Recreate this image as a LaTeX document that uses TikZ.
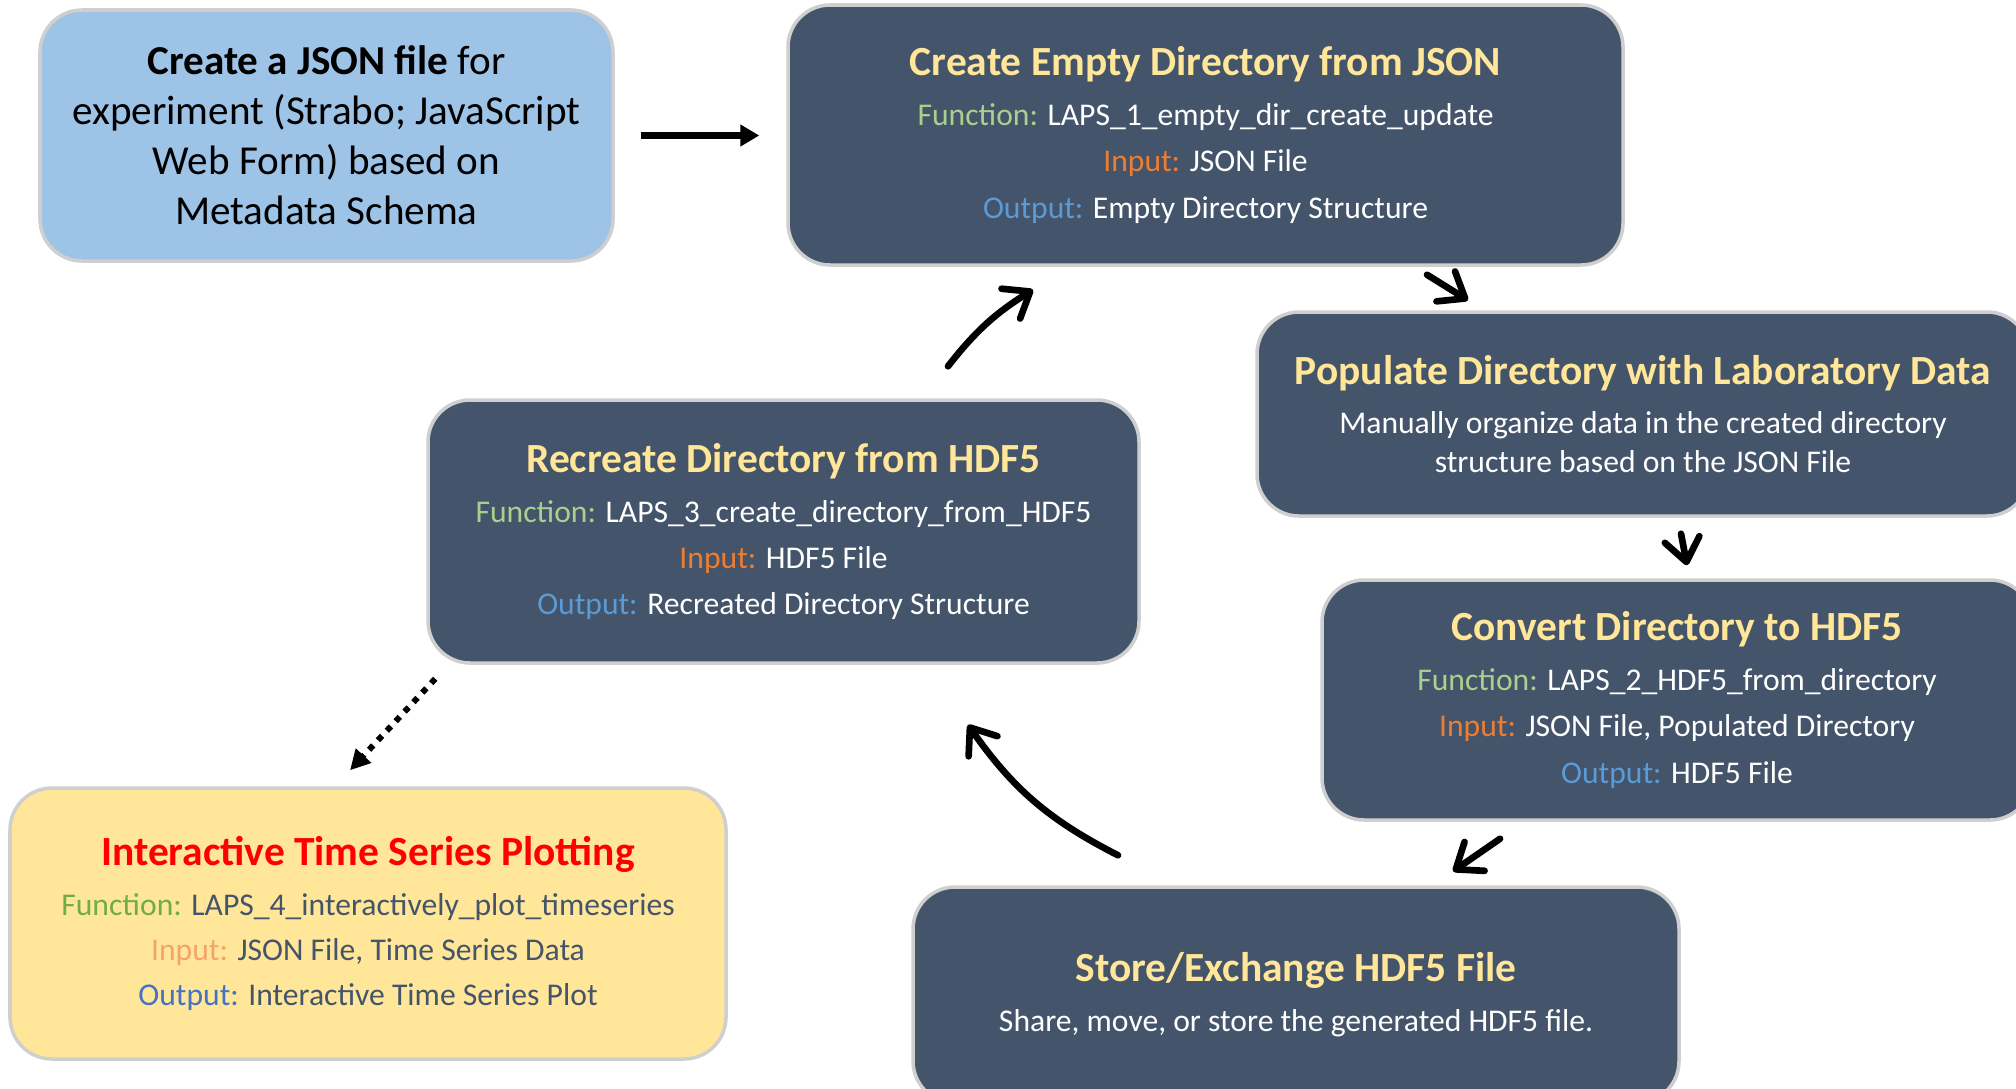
\documentclass[tikz,border=0pt]{standalone}
\usepackage{fontspec}
\setmainfont{Carlito}
\usetikzlibrary{arrows.meta}
\usepackage{xcolor}

\definecolor{slate}{HTML}{44546A}
\definecolor{skyfill}{HTML}{9DC3E6}
\definecolor{sandfill}{HTML}{FFE699}
\definecolor{edgegray}{HTML}{CFCFCF}
\definecolor{fngreen}{HTML}{A9D18E}
\definecolor{inorange}{HTML}{ED7D31}
\definecolor{outblue}{HTML}{5B9BD5}
\definecolor{fngreendk}{HTML}{70AD47}
\definecolor{inorangelt}{HTML}{F4A46A}
\definecolor{outbluedk}{HTML}{4472C4}

\newcommand{\heading}[2][sandfill]{{\fontsize{11.8}{14}\bfseries\color{#1}#2}}

\begin{document}
\begin{tikzpicture}[
    box/.style={rectangle, rounded corners=0.42cm, draw=edgegray, line width=1pt, align=center, inner sep=0pt},
    stepbox/.style={box, fill=slate, text=white, font=\fontsize{9}{13.2}\selectfont},
    flow/.style={line width=1.9pt, line cap=round, -{Straight Barb[length=6.5pt,width=10pt,round]}},
  ]

      \useasboundingbox (0, 0) rectangle (20.16, -10.88);

      % boxes
      \node[box, fill=skyfill, minimum width=5.73cm, minimum height=2.51cm, font=\fontsize{11.7}{14.2}\selectfont] (json) at (3.265, -1.355)
        {\textbf{Create a JSON file} for\\ experiment (Strabo; JavaScript\\ Web Form) based on\\ Metadata Schema};

      \node[stepbox, minimum width=8.35cm, minimum height=2.60cm] (empty) at (12.055, -1.35)
        {\heading{Create Empty Directory from JSON}\\[1.0pt]
         \textcolor{fngreen}{Function:} LAPS\_1\_empty\_dir\_create\_update\\
         \textcolor{inorange}{Input:} JSON File\\
         \textcolor{outblue}{Output:} Empty Directory Structure};

      \node[stepbox, minimum width=7.72cm, minimum height=2.04cm, font=\fontsize{9}{11.1}\selectfont] (populate) at (16.43, -4.14)
        {\heading{Populate Directory with Laboratory Data}\\[3.0pt]
         Manually organize data in the created directory\\
         structure based on the JSON File};

      \node[stepbox, minimum width=7.10cm, minimum height=2.40cm] (convert) at (16.77, -7.00)
        {\heading{Convert Directory to HDF5}\\[1.0pt]
         \textcolor{fngreen}{Function:} LAPS\_2\_HDF5\_from\_directory\\
         \textcolor{inorange}{Input:} JSON File, Populated Directory\\
         \textcolor{outblue}{Output:} HDF5 File};

      \node[stepbox, minimum width=7.66cm, minimum height=2.16cm, font=\fontsize{9}{11.1}\selectfont] (store) at (12.96, -9.95)
        {\heading{Store/Exchange HDF5 File}\\[3.2pt]
         Share, move, or store the generated HDF5 file.};

      \node[stepbox, minimum width=7.11cm, minimum height=2.63cm] (recreate) at (7.835, -5.315)
        {\heading{Recreate Directory from HDF5}\\[1.0pt]
         \textcolor{fngreen}{Function:} LAPS\_3\_create\_directory\_from\_HDF5\\
         \textcolor{inorange}{Input:} HDF5 File\\
         \textcolor{outblue}{Output:} Recreated Directory Structure};

      \node[box, fill=sandfill, text=slate, minimum width=7.16cm, minimum height=2.71cm, font=\fontsize{9}{12.8}\selectfont] (plotting) at (3.68, -9.235)
        {\heading[red]{Interactive Time Series Plotting}\\[1.4pt]
         \textcolor{fngreendk}{Function:} LAPS\_4\_interactively\_plot\_timeseries\\
         \textcolor{inorangelt}{Input:} JSON File, Time Series Data\\
         \textcolor{outbluedk}{Output:} Interactive Time Series Plot};

      % arrows
      \draw[line width=2pt, -{Triangle[length=0.19cm,width=0.21cm]}] ([xshift=0.26cm]json.east) -- ([xshift=-0.27cm]empty.west |- json.east);
      \draw[flow] ([shift={(2.215,-0.08)}]empty.south) -- ([shift={(-1.75,0.10)}]populate.north);
      \draw[flow] ([shift={(0.38,-0.16)}]populate.south) -- ([shift={(0.10,0.13)}]convert.north);
      \draw[flow] ([shift={(-1.77,-0.17)}]convert.south) -- ([shift={(1.57,0.14)}]store.north);
      \draw[flow] ([shift={(-1.78,0.30)}]store.north) to[bend left=14] ([shift={(1.845,-0.60)}]recreate.south);
      \draw[flow] ([shift={(1.645,0.32)}]recreate.north) to[bend left=10] ([shift={(-1.725,-0.23)}]empty.south);
      \draw[line width=1.7pt, dash pattern=on 1.7pt off 2pt, -{Triangle[length=0.2cm,width=0.2cm]}] ([shift={(0.09,-0.14)}]recreate.south west) -- ([shift={(-0.18,0.16)}]plotting.north);

\end{tikzpicture}
\end{document}
